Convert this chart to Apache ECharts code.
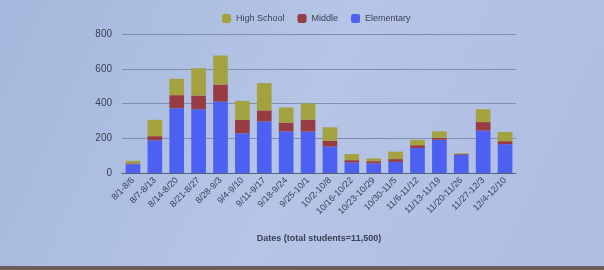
<!DOCTYPE html>
<html><head><meta charset="utf-8">
<script src="https://cdn.jsdelivr.net/npm/echarts@6/dist/echarts.min.js"></script>
<style>html,body{margin:0;padding:0;}#c{width:604px;height:270px;}</style>
</head><body><div id="c"></div>
<script>
const categories = ['8/1-8/6','8/7-8/13','8/14-8/20','8/21-8/27','8/28-9/3','9/4-9/10','9/11-9/17','9/18-9/24','9/25-10/1','10/2-10/8','10/16-10/22','10/23-10/29','10/30-11/5','11/6-11/12','11/13-11/19','11/20-11/26','11/27-12/3','12/4-12/10'];
const elementary = [50,188,373,367,411,228,297,239,238,152,60,55,64,144,191,105,244,166];
const middle = [5,24,75,79,98,78,63,50,69,33,14,13,16,16,12,4,49,17];
const highSchool = [15,94,94,157,167,109,157,88,93,78,35,16,43,31,37,4,74,53];
const yTicks = [0,200,400,600,800];

const chart = echarts.init(document.getElementById('c'));
chart.setOption({
  backgroundColor: {type:'linear', x:0, y:0, x2:1, y2:1, colorStops:[
    {offset:0, color:'#a3b8dc'},{offset:0.5, color:'#b6c5e6'},{offset:1, color:'#aebde0'}]},
  animation:false,
  graphic:[{type:'rect', left:0, bottom:0, shape:{width:604, height:4}, style:{fill:'#6a5e5a'}}],
  legend:{
    top:9, left:217, itemWidth:9, itemHeight:9, itemGap:13,
    textStyle:{color:'#3a3f55', fontSize:9, fontFamily:'Liberation Sans'},
    data:['High School','Middle','Elementary']
  },
  grid:{left:122, right:88, top:34, bottom:97},
  xAxis:{
    type:'category', data:categories,
    axisLine:{lineStyle:{color:'#55607a', width:1}},
    axisTick:{show:false},
    axisLabel:{rotate:45, fontSize:9, color:'#3a3f55', margin:6, fontFamily:'Liberation Sans', interval:0},
    name:'Dates (total students=11,500)', nameLocation:'middle', nameGap:61,
    nameTextStyle:{fontSize:9, fontWeight:'bold', color:'#3a3f55', fontFamily:'Liberation Sans'}
  },
  yAxis:{
    type:'value', min:yTicks[0], max:yTicks[yTicks.length-1], interval:200,
    axisLine:{show:false}, axisTick:{show:false},
    splitLine:{lineStyle:{color:'#7f8fb0', width:1}},
    axisLabel:{fontSize:10, color:'#3a3f55', margin:10, fontFamily:'Liberation Sans'}
  },
  series:[
    {name:'Elementary', type:'bar', stack:'s', data:elementary, itemStyle:{color:'#4c60f2'}, barCategoryGap:'33%'},
    {name:'Middle', type:'bar', stack:'s', data:middle, itemStyle:{color:'#983c44'}},
    {name:'High School', type:'bar', stack:'s', data:highSchool, itemStyle:{color:'#a3a23e'}}
  ]
});
</script></body></html>
